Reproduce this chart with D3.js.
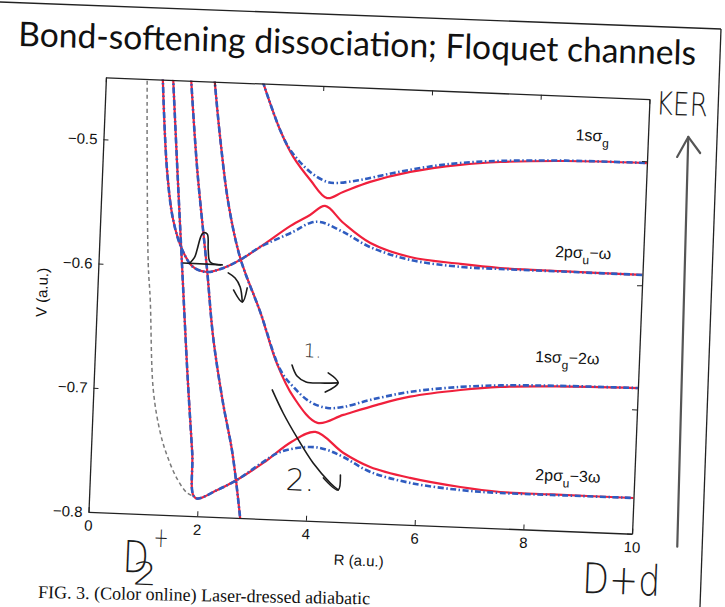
<!DOCTYPE html>
<html>
<head>
<meta charset="utf-8">
<script src="https://cdn.jsdelivr.net/npm/d3@7"></script>
<style>
  body { margin: 0; background: #fff; }
  svg { display: block; }
</style>
</head>
<body>
<svg width="725" height="607"></svg>
<script>
// Potential curves, [R (a.u.), V (a.u.)]
// upper pair: 1sσg / 2pσu-ω
const upperHiRed = [[2.88,-0.448],[3.24,-0.487],[3.50,-0.508],[3.83,-0.526],[4.15,-0.540],[4.44,-0.5346],[4.93,-0.5256],[5.66,-0.5163],[6.57,-0.509],[7.31,-0.5054],[8.5,-0.5025],[10,-0.5015]];
const upperHiBlue = [[2.88,-0.448],[3.24,-0.487],[3.44,-0.5025],[3.82,-0.5195],[4.14,-0.527],[4.33,-0.5275],[4.75,-0.5243],[5.35,-0.5177],[5.97,-0.5117],[6.57,-0.5075],[7.31,-0.5045],[8.5,-0.5022],[10,-0.5015]];
const upperLoRed = [[1.04,-0.446],[1.19,-0.5225],[1.34,-0.5625],[1.53,-0.5864],[1.74,-0.5997],[2.00,-0.6033],[2.30,-0.5995],[2.60,-0.5925],[2.96,-0.5814],[3.50,-0.5635],[3.85,-0.5541],[4.12,-0.5464],[4.47,-0.5595],[4.98,-0.5747],[5.72,-0.5847],[6.65,-0.5886],[7.38,-0.5906],[8.5,-0.5912],[10,-0.5916]];
const upperLoBlue = [[1.04,-0.446],[1.19,-0.5225],[1.34,-0.5625],[1.53,-0.5864],[1.74,-0.5997],[2.00,-0.6033],[2.30,-0.5995],[2.60,-0.5925],[2.96,-0.5814],[3.55,-0.5683],[3.86,-0.5605],[4.04,-0.5594],[4.47,-0.5667],[4.98,-0.578],[5.72,-0.587],[6.66,-0.591],[7.38,-0.5914],[8.5,-0.5915],[10,-0.5916]];
// lower pair: 1sσg-2ω / 2pσu-3ω
const lowerHiRed = [[1.99,-0.446],[2.14,-0.4943],[2.34,-0.547],[2.60,-0.591],[3.01,-0.634],[3.35,-0.6745],[3.68,-0.701],[4.14,-0.721],[4.61,-0.7138],[5.22,-0.7046],[5.82,-0.697],[6.74,-0.690],[7.47,-0.6862],[8.5,-0.684],[10,-0.6827]];
const lowerHiBlue = [[1.99,-0.446],[2.14,-0.4943],[2.34,-0.547],[2.60,-0.591],[3.01,-0.634],[3.42,-0.6797],[3.67,-0.6929],[3.99,-0.7044],[4.31,-0.7087],[4.60,-0.7074],[5.09,-0.7009],[5.82,-0.6931],[6.74,-0.6875],[7.47,-0.685],[8.5,-0.6835],[10,-0.6827]];
const lowerLoRed = [[1.23,-0.446],[1.38,-0.522],[1.544,-0.6025],[1.709,-0.6827],[1.862,-0.7492],[1.95,-0.7853],[2.35,-0.7782],[2.76,-0.7678],[3.18,-0.7548],[3.68,-0.737],[4.11,-0.7284],[4.64,-0.7444],[5.14,-0.7548],[5.88,-0.7623],[6.81,-0.768],[7.55,-0.7707],[8.5,-0.771],[10,-0.7712]];
const lowerLoBlue = [[1.23,-0.446],[1.38,-0.522],[1.544,-0.6025],[1.709,-0.6827],[1.862,-0.7492],[1.95,-0.7853],[2.35,-0.7782],[2.76,-0.7678],[3.10,-0.7565],[3.48,-0.7456],[4.03,-0.7406],[4.34,-0.7425],[4.64,-0.7476],[5.15,-0.7588],[5.89,-0.7663],[6.81,-0.7704],[7.55,-0.7715],[8.5,-0.7714],[10,-0.7712]];
// steep crossing curve and the grey reference curve
const steepCurve = [[1.56,-0.446],[1.746,-0.5216],[2.00,-0.6016],[2.16,-0.6553],[2.39,-0.708],[2.60,-0.748],[2.80,-0.803]];
const greyCurve = [[0.755,-0.446],[0.81,-0.507],[0.915,-0.599],[0.978,-0.6276],[1.10,-0.6998],[1.26,-0.734],[1.41,-0.753],[1.61,-0.771],[1.80,-0.7816],[1.95,-0.7845]];

// curve labels: text, subscript, tail, [R, V] of label start
const curveLabels = [
  ["1sσ", "g", "", [8.67, -0.4855]],
  ["2pσ", "u", "−ω", [8.38, -0.580]],
  ["1sσ", "g", "−2ω", [8.09, -0.665]],
  ["2pσ", "u", "−3ω", [8.18, -0.760]]
];

const xTicks = [0, 2, 4, 6, 8, 10];
const yTicks = [-0.8, -0.7, -0.6, -0.5];

// hand-drawn notes on the scan, in [R, V]
const packetBase = [[1.557,-0.5968],[2.274,-0.5971]];
const packetBell = [[1.68,-0.5966],[1.76,-0.592],[1.80,-0.586],[1.86,-0.575],[1.90,-0.572],[1.976,-0.5727],[2.006,-0.5856],[2.05,-0.5951],[2.24,-0.5972]];
const arrowPacket = [[2.39,-0.6033],[2.52,-0.6072],[2.62,-0.6142],[2.67,-0.6263]];
const arrowPacketHead = [[2.50,-0.6169],[2.67,-0.6263],[2.75,-0.6148]];
const arrowOne = [[3.63,-0.6753],[3.73,-0.684],[3.90,-0.6885],[4.16,-0.6889],[4.49,-0.6882]];
const arrowOneHead = [[4.30,-0.6805],[4.49,-0.6882],[4.26,-0.696]];
const arrowTwo = [[3.285,-0.696],[3.50,-0.714],[3.78,-0.7338],[4.09,-0.7534],[4.42,-0.7689],[4.57,-0.7743]];
const arrowTwoHead = [[4.29,-0.7651],[4.57,-0.7743],[4.60,-0.7622]];
const kerShaft = [[10.84,-0.809],[10.74,-0.4792]];
const kerHead = [[10.55,-0.4956],[10.74,-0.4792],[10.97,-0.4917]];
const handNotes = [
  ["1.", [3.83,-0.6685], 19, null],
  ["2.", [3.60,-0.776], 30, null],
  ["KER", [10.12,-0.462], 32, 52],
  ["D+d", [9.12,-0.849], 42, 78],
  ["D", [0.664,-0.847], 44, 26],
  ["2", [0.86,-0.857], 32, 24],
  ["+", [1.215,-0.826], 28, 15]
];

const svg = d3.select("svg");

// page edge left in the scan
svg.append("line").attr("x1", 0).attr("y1", 2).attr("x2", 721).attr("y2", 29)
  .attr("stroke", "#222").attr("stroke-width", 1.3);
svg.append("line").attr("x1", 721).attr("y1", 29).attr("x2", 700).attr("y2", 607)
  .attr("stroke", "#222").attr("stroke-width", 1.3);

// title
svg.append("text")
  .attr("x", 18).attr("y", 46)
  .attr("transform", "rotate(1.6,18,46)")
  .attr("font-family", "Lato, 'Open Sans', sans-serif")
  .attr("font-size", 34)
  .attr("fill", "#111")
  .attr("textLength", 678)
  .attr("lengthAdjust", "spacingAndGlyphs")
  .text("Bond-softening dissociation; Floquet channels");

// figure caption, only its first words fit on the page
svg.append("text")
  .attr("x", 38).attr("y", 598)
  .attr("transform", "rotate(1.1,38,598)")
  .attr("font-family", "'Liberation Serif', 'Times New Roman', serif")
  .attr("font-size", 18).attr("fill", "#111")
  .text("FIG. 3. (Color online) Laser-dressed adiabatic");

// plot area (the scan is turned by a couple of degrees)
const margin = {left: 97, top: 88},
    width = 544, height = 435;
const cx = margin.left + width / 2, cy = margin.top + height / 2;

const g = svg.append("g")
  .attr("transform", `rotate(2.3,${cx},${cy}) translate(${margin.left},${margin.top})`);

const x = d3.scaleLinear().domain([0, 10]).range([0, width]);
const y = d3.scaleLinear().domain([-0.8, -0.45]).range([height, 0]);

g.append("clipPath").attr("id", "plotClip")
  .append("rect").attr("width", width).attr("height", height);

const line = d3.line()
  .x(d => x(d[0]))
  .y(d => y(d[1]))
  .curve(d3.curveCatmullRom.alpha(0.5));

const curves = g.append("g").attr("clip-path", "url(#plotClip)");

curves.append("path").datum(greyCurve)
  .attr("d", line).attr("fill", "none")
  .attr("stroke", "#7a7a7a").attr("stroke-width", 1.5)
  .attr("stroke-dasharray", "4,3");

const redSeries = [upperHiRed, upperLoRed, lowerHiRed, lowerLoRed, steepCurve];
const blueSeries = [upperHiBlue, upperLoBlue, lowerHiBlue, lowerLoBlue, steepCurve];

curves.selectAll(".red").data(redSeries).join("path")
  .attr("class", "red")
  .attr("d", line).attr("fill", "none")
  .attr("stroke", "#f0203c").attr("stroke-width", 2.2);

curves.selectAll(".blue").data(blueSeries).join("path")
  .attr("class", "blue")
  .attr("d", line).attr("fill", "none")
  .attr("stroke", "#2f5cc0").attr("stroke-width", 2.6)
  .attr("stroke-dasharray", "6,2.5,1.5,2.5");

// axes, MATLAB style with inward ticks
const axisFont = "'Liberation Sans', Arial, sans-serif";
g.append("g")
  .call(d3.axisLeft(y).tickValues(yTicks).tickSize(-5).tickSizeOuter(0).tickPadding(6).tickFormat(d3.format(".1f")));
g.append("g").attr("transform", `translate(0,${height})`)
  .call(d3.axisBottom(x).tickValues(xTicks).tickSize(-5).tickSizeOuter(0).tickPadding(8));
g.append("g")
  .call(d3.axisTop(x).tickValues(xTicks).tickSize(-5).tickSizeOuter(0).tickFormat(""));
g.append("g").attr("transform", `translate(${width},0)`)
  .call(d3.axisRight(y).tickValues(yTicks).tickSize(-5).tickSizeOuter(0).tickFormat(""));

g.selectAll(".domain").attr("stroke", "#222").attr("stroke-width", 1.3);
g.selectAll(".tick line").attr("stroke", "#222").attr("stroke-width", 1);
g.selectAll(".tick text").attr("font-family", axisFont).attr("font-size", 15).attr("fill", "#111");

g.append("text")
  .attr("transform", `translate(-50,${height / 2}) rotate(-90)`)
  .attr("text-anchor", "middle")
  .attr("font-family", axisFont).attr("font-size", 15).attr("fill", "#111")
  .text("V (a.u.)");

g.append("text")
  .attr("x", x(5)).attr("y", height + 43)
  .attr("text-anchor", "middle")
  .attr("font-family", axisFont).attr("font-size", 15).attr("fill", "#111")
  .text("R (a.u.)");

// curve labels with subscripts
curveLabels.forEach(([main, sub, tail, pos]) => {
  const t = g.append("text")
    .attr("x", x(pos[0])).attr("y", y(pos[1]))
    .attr("font-family", axisFont).attr("font-size", 16).attr("fill", "#111");
  t.append("tspan").text(main);
  t.append("tspan").attr("dy", 6).attr("font-size", 12).text(sub);
  if (tail) t.append("tspan").attr("dy", -6).text(tail);
});

// hand-drawn notes
const hand = d3.line()
  .x(d => x(d[0]))
  .y(d => y(d[1]))
  .curve(d3.curveCatmullRom.alpha(0.5));
const strokes = [packetBase, packetBell, arrowPacket, arrowPacketHead, arrowOne, arrowOneHead, arrowTwo, arrowTwoHead];
g.selectAll(".hand").data(strokes).join("path")
  .attr("class", "hand")
  .attr("d", hand).attr("fill", "none")
  .attr("stroke", "#1c1c1c").attr("stroke-width", 1.6)
  .attr("stroke-linecap", "round").attr("stroke-linejoin", "round");
g.selectAll(".ker").data([kerShaft, kerHead]).join("path")
  .attr("class", "ker")
  .attr("d", d3.line().x(d => x(d[0])).y(d => y(d[1]))).attr("fill", "none")
  .attr("stroke", "#555").attr("stroke-width", 2.2)
  .attr("stroke-linecap", "round").attr("stroke-linejoin", "round");

handNotes.forEach(([txt, pos, size, len]) => {
  const t = g.append("text")
    .attr("x", x(pos[0])).attr("y", y(pos[1]))
    .attr("font-family", "'DejaVu Sans', sans-serif")
    .attr("font-weight", 300)
    .attr("font-size", size).attr("fill", "#1c1c1c")
    .text(txt);
  if (len) t.attr("textLength", len).attr("lengthAdjust", "spacingAndGlyphs");
});
</script>
</body>
</html>
